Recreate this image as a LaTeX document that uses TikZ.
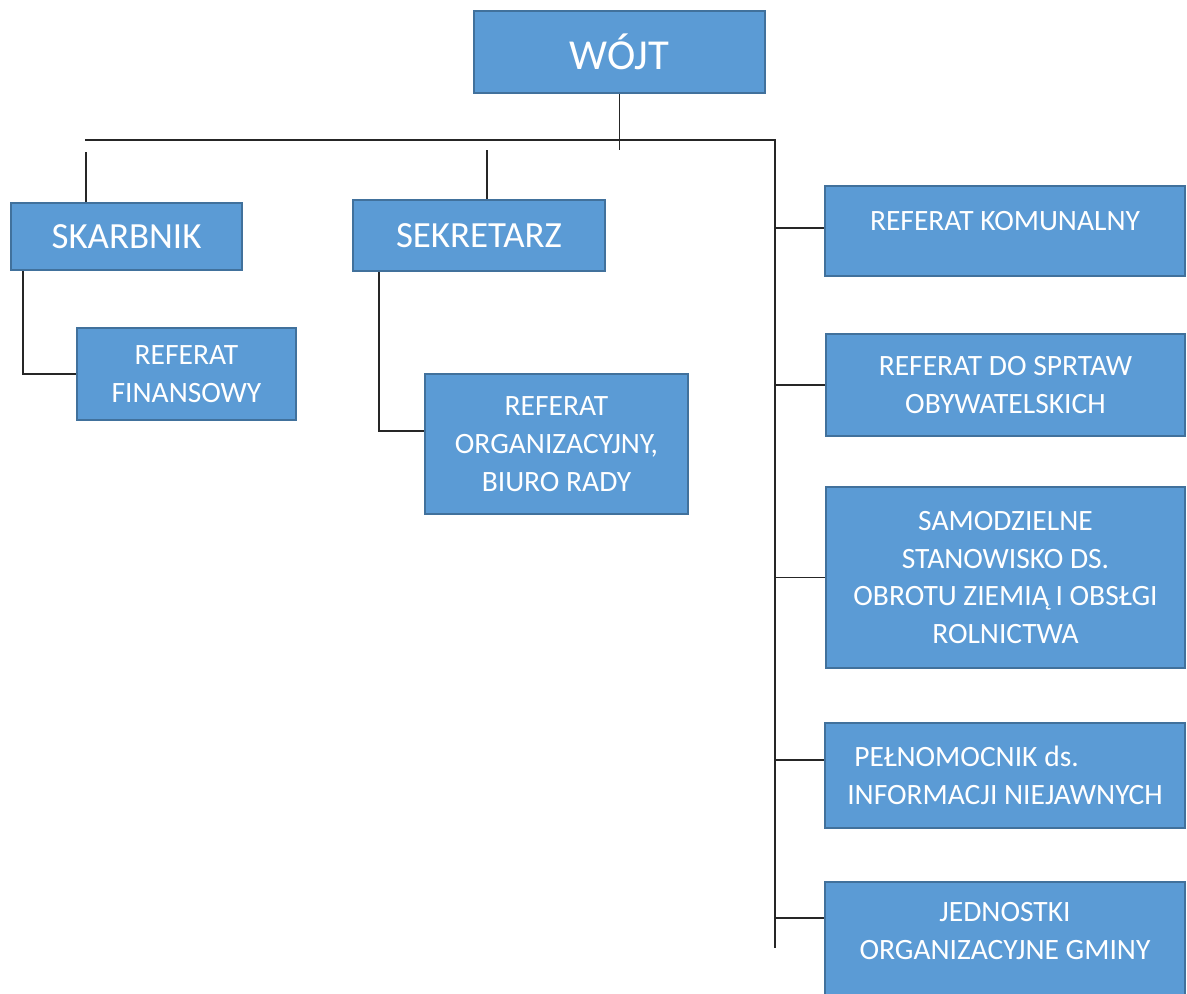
\documentclass[tikz,border=0pt]{standalone}
\usepackage{fontspec}
\setmainfont{Carlito}
\usetikzlibrary{calc}
\definecolor{boxfill}{HTML}{5B9BD5}
\definecolor{boxline}{HTML}{41719C}
\definecolor{ink}{HTML}{262626}
\tikzset{
  unit/.style={draw=boxline, fill=boxfill, line width=1.2pt, inner sep=0pt, text=white, align=center, font=\fontsize{16.8}{21.6}\selectfont},
  head/.style={unit, font=\fontsize{21}{25}\selectfont},
  chief/.style={unit, font=\fontsize{24.3}{29}\selectfont},
  wh/.style 2 args={minimum width=#1*0.02cm, minimum height=#2*0.02cm},
  txt/.style={text=white, align=center, inner sep=0pt, font=\fontsize{16.8}{21.6}\selectfont},
  link/.style={draw=ink, line width=0.8pt},
}

\begin{document}
\begin{tikzpicture}[x=0.02cm, y=-0.02cm]
  \useasboundingbox (0,0) rectangle (1187,994);

  % top and second level
  \node[chief, wh={291}{82}] (wojt) at (619.5,52) {WÓJT};
  \node[head, wh={231}{67}] (skarb) at (126.5,236.5) {SKARBNIK};
  \node[head, wh={252}{71}] (sekr) at (479,235.5) {SEKRETARZ};
  \node[unit, wh={219}{92}] (fin) at (186.5,374) {REFERAT\\FINANSOWY};
  \node[unit, wh={263}{140}] (org) at (556.5,444) {REFERAT\\ORGANIZACYJNY,\\BIURO RADY};

  % right column
  \node[unit, wh={360}{90}] (kom) at (1005,231) {};
  \node[txt] (komT) at ([yshift=0.2cm]kom.center) {REFERAT KOMUNALNY};
  \node[unit, wh={359}{102}] (spr) at (1005.5,385) {REFERAT DO SPRTAW\\OBYWATELSKICH};
  \node[unit, wh={359}{181}] (sam) at (1005.5,577.5) {SAMODZIELNE\\STANOWISKO DS.\\OBROTU ZIEMIĄ I OBSŁGI\\ROLNICTWA};
  \node[unit, wh={360}{105}, align=left] (pel) at (1005,775.5) {\hspace{0.14cm}PEŁNOMOCNIK ds.\\INFORMACJI NIEJAWNYCH};
  \node[unit, wh={360}{118}] (jed) at (1005,941) {};
  \node[txt] (jedT) at ([yshift=0.2cm]jed.center) {JEDNOSTKI\\ORGANIZACYJNE GMINY};

  \coordinate (wojtEnd) at (619.5,150);
  \coordinate (busL) at (85,140);
  \coordinate (busR) at (775,140);
  \coordinate (busB) at (775,948);
  \coordinate (skarbTop) at (86,152);
  \coordinate (sekrTop) at (487,150);

  \draw[link] (wojt.south) -- (wojtEnd);
  \draw[link] (busL) -- (busR) -- (busB);
  \draw[link] (skarbTop) -- (skarbTop |- skarb.north);
  \draw[link] (sekrTop) -- (sekrTop |- sekr.north);
  \draw[link] ([xshift=0.26cm]skarb.south west) |- (fin.west);
  \draw[link] ([xshift=0.54cm]sekr.south west) |- ([yshift=0.26cm]org.west);

  \foreach \n/\s in {kom/0.06, spr/0, sam/0, pel/0.31, jed/0.46}{
    \path ([yshift=\s cm]\n.west) coordinate (\n In);
    \draw[link] (\n In -| busR) -- (\n In);
  }
\end{tikzpicture}
\end{document}
